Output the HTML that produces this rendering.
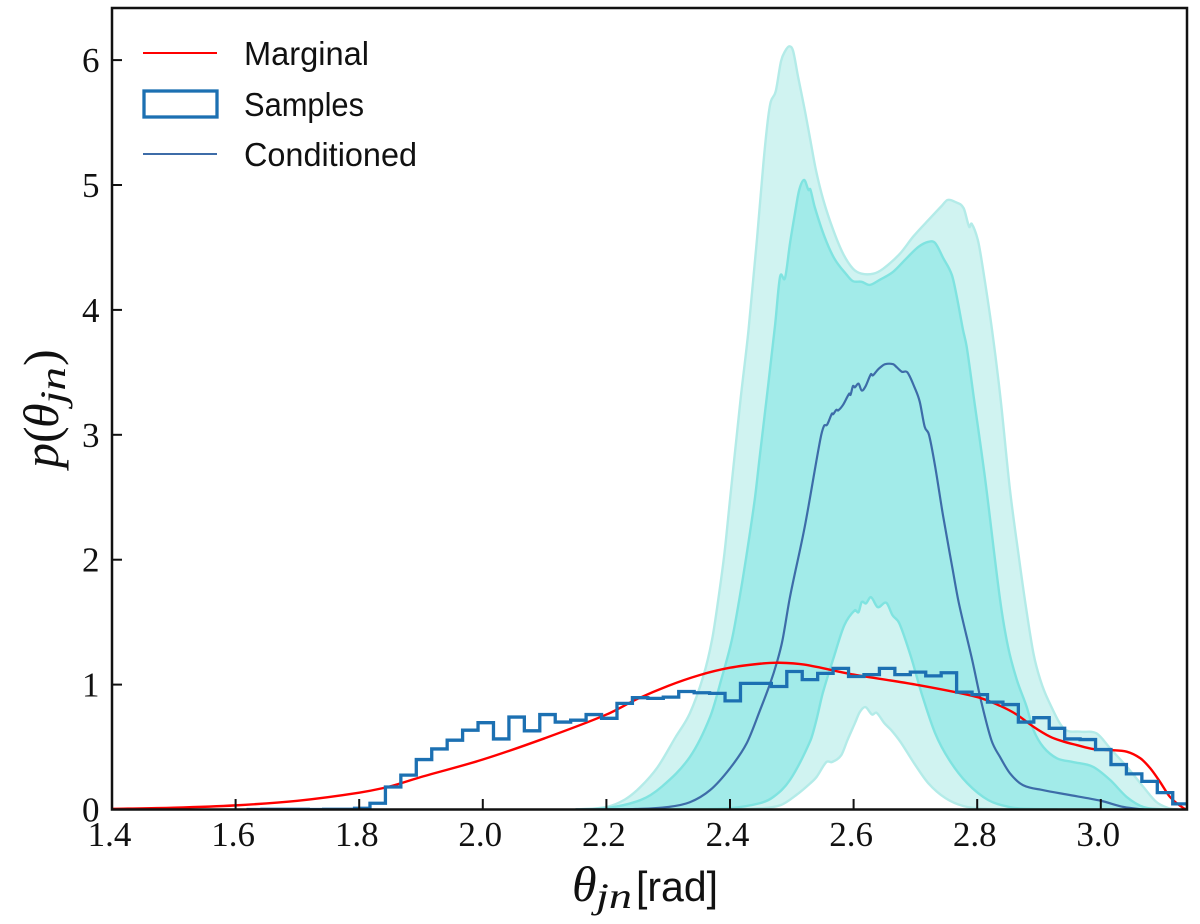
<!DOCTYPE html>
<html lang="en">
<head>
<meta charset="utf-8">
<title>Marginal and conditioned distribution of theta_jn</title>
<style>
  html, body { margin: 0; padding: 0; background: #fff; }
  svg { display: block; }
  .tick-label { font-family: "Liberation Serif", serif; font-size: 35px; fill: #111; }
  .legend-label { font-family: "Liberation Sans", sans-serif; font-size: 33px; fill: #111; }
  .axis-title { font-family: "Liberation Serif", serif; font-size: 50px; fill: #111; }
</style>
</head>
<body>
<svg id="chart" xmlns="http://www.w3.org/2000/svg" width="1200" height="924" viewBox="0 0 1200 924">
  <defs>
    <clipPath id="plot-clip"><rect x="112" y="8" width="1075" height="801.5"></rect></clipPath>
  </defs>
  <g id="bands" clip-path="url(#plot-clip)"></g>
  <g id="lines" clip-path="url(#plot-clip)"></g>
  <g id="axes"></g>

  <g>
    <line x1="143" y1="53" x2="217" y2="53" stroke="#ff0000" stroke-width="2"></line>
    <text class="legend-label" x="244" y="65" textLength="125" lengthAdjust="spacingAndGlyphs">Marginal</text>
    <rect x="144" y="91" width="73" height="26" fill="none" stroke="#1c70b2" stroke-width="3.3"></rect>
    <text class="legend-label" x="244" y="116" textLength="120" lengthAdjust="spacingAndGlyphs">Samples</text>
    <line x1="143" y1="154" x2="217" y2="154" stroke="#3d6ca8" stroke-width="2"></line>
    <text class="legend-label" x="244" y="166" textLength="173" lengthAdjust="spacingAndGlyphs">Conditioned</text>
  </g>

  <text class="axis-title" transform="translate(58 468) rotate(-90)"><tspan x="0" y="0" font-style="italic">p</tspan><tspan x="25" y="0">(</tspan><tspan x="40" y="0" font-style="italic">θ</tspan><tspan x="64" y="7" font-style="italic" font-size="36" textLength="37" lengthAdjust="spacingAndGlyphs">jn</tspan><tspan x="102" y="0">)</tspan></text>
  <text class="axis-title" x="572" y="901"><tspan x="572" y="901" font-style="italic">θ</tspan><tspan x="596" y="908" font-style="italic" font-size="36" textLength="36" lengthAdjust="spacingAndGlyphs">jn</tspan><tspan x="636" y="901" font-family="Liberation Sans, sans-serif" font-size="42" textLength="82" lengthAdjust="spacingAndGlyphs">[rad]</tspan></text>
</svg>

<script>
// Axis ticks
const xTickValues = [1.4, 1.6, 1.8, 2.0, 2.2, 2.4, 2.6, 2.8, 3.0];
const xTickLabels = ["1.4", "1.6", "1.8", "2.0", "2.2", "2.4", "2.6", "2.8", "3.0"];
const yTickValues = [0, 1, 2, 3, 4, 5, 6];
const yTickLabels = ["0", "1", "2", "3", "4", "5", "6"];

// Marginal curve
const marginalTheta = [1.4, 1.5, 1.6, 1.7, 1.8, 1.85, 1.9, 2.0, 2.1, 2.2, 2.25, 2.3, 2.35, 2.4, 2.45, 2.48, 2.52, 2.6, 2.7, 2.8, 2.837, 2.864, 2.891, 2.918, 2.939, 2.961, 2.988, 3.015, 3.042, 3.064, 3.08, 3.096, 3.112, 3.134, 3.1416];
const marginalValues = [0.005, 0.014, 0.033, 0.07, 0.135, 0.185, 0.26, 0.40, 0.57, 0.76, 0.885, 0.99, 1.075, 1.135, 1.168, 1.175, 1.16, 1.08, 1.0, 0.90, 0.83, 0.76, 0.663, 0.583, 0.545, 0.516, 0.484, 0.476, 0.463, 0.41, 0.33, 0.22, 0.10, 0.01, 0];

// Histogram of samples
const histStart = 1.6176;
const histBinWidth = 0.02498;
const histValues = [0, 0.002, 0.002, 0.002, 0, 0.002, 0.002, 0.01,
  0.05, 0.18, 0.275, 0.40, 0.485, 0.555, 0.635, 0.695, 0.565, 0.74, 0.63, 0.76, 0.70, 0.715, 0.76, 0.73, 0.85, 0.895,
  0.89, 0.90, 0.945, 0.935, 0.93, 0.87, 1.01, 1.01, 0.985, 1.105, 1.04, 1.09, 1.13, 1.065, 1.08, 1.13, 1.08, 1.10, 1.07, 1.095,
  0.94, 0.92, 0.86, 0.84, 0.70, 0.735, 0.65, 0.565, 0.56, 0.48, 0.36, 0.285, 0.225, 0.135, 0.045];

// Conditioned (median)
const conditionedTheta = [2.15, 2.255, 2.3, 2.335, 2.368, 2.4, 2.427, 2.449, 2.465, 2.476, 2.485, 2.497, 2.521, 2.546, 2.552, 2.557, 2.565, 2.567, 2.572, 2.575, 2.583, 2.593, 2.595, 2.599, 2.602, 2.608, 2.613, 2.619, 2.628, 2.631, 2.638, 2.642, 2.651, 2.664, 2.67, 2.678, 2.687, 2.699, 2.707, 2.715, 2.722, 2.732, 2.745, 2.76, 2.77, 2.792, 2.806, 2.823, 2.837, 2.853, 2.874, 2.907, 2.945, 3.0, 3.037, 3.07];
const conditionedValues = [0, 0.005, 0.02, 0.058, 0.156, 0.33, 0.53, 0.80, 1.01, 1.18, 1.357, 1.70, 2.265, 2.96, 3.07, 3.08, 3.17, 3.165, 3.2, 3.195, 3.24, 3.33, 3.32, 3.39, 3.38, 3.41, 3.355, 3.385, 3.485, 3.475, 3.515, 3.535, 3.565, 3.565, 3.54, 3.505, 3.5, 3.375, 3.265, 3.065, 3.0, 2.745, 2.345, 1.93, 1.66, 1.195, 0.875, 0.555, 0.42, 0.29, 0.195, 0.155, 0.12, 0.07, 0.02, 0];

// Outer band
const outerUpperTheta = [2.15, 2.2, 2.23, 2.255, 2.283, 2.312, 2.335, 2.357, 2.371, 2.381, 2.391, 2.40, 2.417, 2.43, 2.444, 2.454, 2.461, 2.466, 2.474, 2.4825, 2.489, 2.496, 2.502, 2.51, 2.521, 2.53, 2.539, 2.551, 2.567, 2.583, 2.599, 2.613, 2.632, 2.648, 2.675, 2.697, 2.724, 2.743, 2.752, 2.764, 2.778, 2.787, 2.791, 2.801, 2.808, 2.824, 2.838, 2.853, 2.868, 2.878, 2.891, 2.902, 2.915, 2.94, 2.967, 2.993, 3.015, 3.042, 3.069, 3.09, 3.11, 3.125];
const outerUpperValues = [0, 0.02, 0.08, 0.18, 0.34, 0.58, 0.77, 1.07, 1.36, 1.68, 2.05, 2.48, 3.28, 3.84, 4.586, 5.17, 5.51, 5.667, 5.75, 5.99, 6.07, 6.11, 6.075, 5.87, 5.60, 5.36, 5.12, 4.88, 4.64, 4.45, 4.33, 4.29, 4.29, 4.33, 4.45, 4.59, 4.735, 4.835, 4.88, 4.865, 4.815, 4.665, 4.69, 4.56, 4.37, 3.84, 3.28, 2.56, 2.0, 1.65, 1.25, 1.04, 0.875, 0.65, 0.623, 0.61, 0.49, 0.343, 0.18, 0.06, 0.01, 0];
const outerLowerTheta = [2.38, 2.443, 2.482, 2.511, 2.53, 2.54, 2.556, 2.565, 2.58, 2.59, 2.602, 2.61, 2.619, 2.63, 2.637, 2.65, 2.661, 2.676, 2.698, 2.721, 2.749, 2.778, 2.812, 2.86];
const outerLowerValues = [0, 0.008, 0.035, 0.13, 0.21, 0.26, 0.38, 0.38, 0.435, 0.555, 0.69, 0.78, 0.82, 0.76, 0.775, 0.69, 0.635, 0.54, 0.37, 0.21, 0.09, 0.027, 0.005, 0];

// Inner band
const innerUpperTheta = [2.15, 2.2, 2.255, 2.289, 2.335, 2.368, 2.387, 2.403, 2.415, 2.4256, 2.44, 2.448, 2.459, 2.473, 2.481, 2.489, 2.497, 2.505, 2.512, 2.52, 2.527, 2.53, 2.537, 2.553, 2.569, 2.589, 2.599, 2.613, 2.626, 2.642, 2.664, 2.686, 2.705, 2.721, 2.732, 2.745, 2.759, 2.767, 2.777, 2.783, 2.795, 2.813, 2.837, 2.85, 2.864, 2.88, 2.891, 2.907, 2.929, 2.955, 2.987, 3.015, 3.042, 3.069, 3.1];
const innerUpperValues = [0, 0.01, 0.075, 0.18, 0.42, 0.743, 1.06, 1.358, 1.68, 2.0, 2.48, 2.82, 3.28, 3.88, 4.265, 4.255, 4.53, 4.77, 4.96, 5.04, 4.96, 4.965, 4.825, 4.585, 4.41, 4.28, 4.23, 4.225, 4.2, 4.24, 4.305, 4.415, 4.505, 4.545, 4.535, 4.415, 4.28, 4.105, 3.84, 3.705, 3.28, 2.64, 1.68, 1.3, 1.04, 0.823, 0.637, 0.50, 0.41, 0.38, 0.343, 0.237, 0.10, 0.02, 0];
const innerLowerTheta = [2.3, 2.35, 2.4, 2.448, 2.47, 2.497, 2.53, 2.54, 2.55, 2.568, 2.585, 2.602, 2.608, 2.613, 2.62, 2.628, 2.639, 2.653, 2.663, 2.674, 2.693, 2.71, 2.732, 2.755, 2.784, 2.818, 2.852, 2.88, 2.93];
const innerLowerValues = [0, 0.002, 0.01, 0.05, 0.10, 0.236, 0.55, 0.72, 0.93, 1.22, 1.475, 1.595, 1.58, 1.66, 1.65, 1.70, 1.62, 1.655, 1.555, 1.49, 1.22, 0.93, 0.61, 0.395, 0.21, 0.075, 0.02, 0.005, 0];

// Axis functions
const xScale = function (t) { return 112 + (t - 1.4) * 618; };
const yScale = function (v) { return 809.5 - v * 124.9; };

const SVG_NS = "http://www.w3.org/2000/svg";
function make(tag, parent, attrs) {
  const el = document.createElementNS(SVG_NS, tag);
  for (const k in attrs) el.setAttribute(k, attrs[k]);
  parent.appendChild(el);
  return el;
}
function toPoints(thetas, values) {
  return thetas.map(function (t, i) { return [xScale(t), yScale(values[i])]; });
}
// Cubic Hermite segments with central-difference slopes (no leading M)
function slopeAt(p, i) {
  const a = p[Math.max(i - 1, 0)], b = p[Math.min(i + 1, p.length - 1)];
  const dx = b[0] - a[0];
  return dx === 0 ? 0 : (b[1] - a[1]) / dx;
}
function smoothSegments(p) {
  let d = "";
  for (let i = 0; i < p.length - 1; i++) {
    const p1 = p[i], p2 = p[i + 1];
    const h = (p2[0] - p1[0]) / 3;
    const m1 = slopeAt(p, i), m2 = slopeAt(p, i + 1);
    d += " C" + (p1[0] + h).toFixed(2) + " " + (p1[1] + m1 * h).toFixed(2) + " " +
      (p2[0] - h).toFixed(2) + " " + (p2[1] - m2 * h).toFixed(2) + " " +
      p2[0].toFixed(2) + " " + p2[1].toFixed(2);
  }
  return d;
}
function linePath(thetas, values) {
  const p = toPoints(thetas, values);
  return "M" + p[0][0].toFixed(2) + " " + p[0][1].toFixed(2) + smoothSegments(p);
}
function bandFillPath(upT, upV, loT, loV) {
  // Region under the upper edge, with the region under the lower edge cut out via evenodd
  const up = toPoints(upT, upV);
  const lo = toPoints(loT, loV);
  let d = "M" + up[0][0].toFixed(2) + " " + up[0][1].toFixed(2) + smoothSegments(up) + " Z";
  d += " M" + lo[0][0].toFixed(2) + " " + lo[0][1].toFixed(2) + smoothSegments(lo) + " Z";
  return d;
}

const bands = document.getElementById("bands");
const lines = document.getElementById("lines");
const axes = document.getElementById("axes");

// Outer band
const outerBand = make("path", bands, {
  d: bandFillPath(outerUpperTheta, outerUpperValues, outerLowerTheta, outerLowerValues),
  fill: "#d0f3f1", "fill-rule": "evenodd", stroke: "none"
});


const outerUpperEdge = make("path", bands, { d: linePath(outerUpperTheta, outerUpperValues), fill: "none", stroke: "#b3ebe8", "stroke-width": 2.4 });


const outerLowerEdge = make("path", bands, { d: linePath(outerLowerTheta, outerLowerValues), fill: "none", stroke: "#b3ebe8", "stroke-width": 2.4 });



// Inner band
const innerBand = make("path", bands, {
  d: bandFillPath(innerUpperTheta, innerUpperValues, innerLowerTheta, innerLowerValues),
  fill: "#a2ebe9", "fill-rule": "evenodd", stroke: "none"
});


const innerUpperEdge = make("path", bands, { d: linePath(innerUpperTheta, innerUpperValues), fill: "none", stroke: "#7fe3e0", "stroke-width": 2.4 });


const innerLowerEdge = make("path", bands, { d: linePath(innerLowerTheta, innerLowerValues), fill: "none", stroke: "#7fe3e0", "stroke-width": 2.4 });



// Conditioned line
const conditionedLine = make("path", lines, { d: linePath(conditionedTheta, conditionedValues), fill: "none", stroke: "#3d6ca8", "stroke-width": 2.2 });



// Marginal line
const marginalLine = make("path", lines, { d: linePath(marginalTheta, marginalValues), fill: "none", stroke: "#ff0000", "stroke-width": 2.4 });



// Histogram step outline
let histD = "M" + xScale(histStart).toFixed(2) + " " + yScale(0).toFixed(2);
histValues.forEach(function (v, i) {
  const x0 = xScale(histStart + i * histBinWidth);
  const x1 = xScale(histStart + (i + 1) * histBinWidth);
  const y = yScale(v).toFixed(2);
  histD += " L" + x0.toFixed(2) + " " + y + " L" + x1.toFixed(2) + " " + y;
});
histD += " L" + xScale(histStart + histValues.length * histBinWidth).toFixed(2) + " " + yScale(0).toFixed(2);
const histLine = make("path", lines, { d: histD, fill: "none", stroke: "#1c70b2", "stroke-width": 3.3, "stroke-linejoin": "miter" });



// Ticks and tick labels
xTickValues.forEach(function (t, i) {
  const x = xScale(t);
  const tick = make("line", axes, { x1: x, x2: x, y1: 809.5, y2: 799, stroke: "#111", "stroke-width": 2 });
  
  
  const label = make("text", axes, { x: x - 2.5, y: 846, "text-anchor": "middle", "class": "tick-label" });
  label.textContent = xTickLabels[i];
  
  
});
yTickValues.forEach(function (v, i) {
  const y = yScale(v);
  const tick = make("line", axes, { x1: 112, x2: 122, y1: y, y2: y, stroke: "#111", "stroke-width": 2 });
  
  
  const label = make("text", axes, { x: 99.5, y: y + 12, "text-anchor": "end", "class": "tick-label" });
  label.textContent = yTickLabels[i];
  
  
});

// Plot frame
const frame = make("rect", axes, { x: 112, y: 8, width: 1075, height: 801.5, fill: "none", stroke: "#111", "stroke-width": 2.5 });


</script>
</body>
</html>
